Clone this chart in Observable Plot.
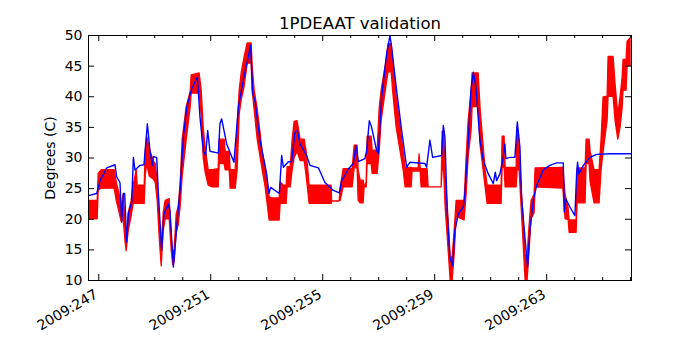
<!DOCTYPE html>
<html><head><meta charset="utf-8">
<script src="https://cdn.jsdelivr.net/npm/d3@7"></script>
<script src="https://cdn.jsdelivr.net/npm/@observablehq/plot@0.6"></script>
<style>
body{margin:0;background:#fff;}
#chart{width:700px;height:350px;}
</style></head><body><div id="chart"></div>
<script>
const title = "1PDEAAT validation";
const yLabel = "Degrees (C)";
const xMajorTicks = [247, 251, 255, 259, 263];
const xTickLabels = ["2009:247", "2009:251", "2009:255", "2009:259", "2009:263"];
const xMinorTicks = [248, 249, 250, 252, 253, 254, 256, 257, 258, 260, 261, 262, 264, 265, 266];
const yTicks = [10, 15, 20, 25, 30, 35, 40, 45, 50];

// Blue (model) series: day of year, degrees C
const blueDay = [246.665, 246.926, 246.986, 247.044, 247.283, 247.579, 247.64, 247.758, 247.819, 247.879,
  247.926, 247.997, 248.058, 248.176, 248.236, 248.294, 248.472, 248.615, 248.736, 248.829,
  248.915, 248.951, 249.069, 249.129, 249.247, 249.329, 249.486, 249.544, 249.665, 249.783,
  249.901, 250.022, 250.14, 250.319, 250.522, 250.615, 250.736, 250.819, 250.89, 250.972,
  251.272, 251.329, 251.39, 251.569, 251.829, 251.986, 252.165, 252.426, 252.497, 252.579,
  252.758, 252.997, 253.079, 253.14, 253.451, 253.533, 253.594, 253.772, 253.89, 254.008,
  254.094, 254.186, 254.426, 254.544, 254.844, 255.079, 255.379, 255.594, 255.676, 255.915,
  256.094, 256.186, 256.272, 256.508, 256.569, 256.665, 256.747, 256.926, 256.986, 257.104,
  257.283, 257.401, 257.461, 257.64, 257.819, 257.997, 258.115, 258.651, 258.711, 258.829,
  258.926, 259.247, 259.308, 259.365, 259.451, 259.544, 259.64, 259.722, 259.844, 260.022,
  260.079, 260.201, 260.294, 260.379, 260.472, 260.615, 260.736, 260.915, 261.094, 261.165,
  261.211, 261.329, 261.451, 261.508, 261.544, 261.686, 261.865, 261.951, 262.044, 262.104,
  262.222, 262.319, 262.401, 262.522, 262.64, 262.819, 262.879, 263.115, 263.354, 263.594,
  263.629, 263.686, 263.829, 264.008, 264.069, 264.104, 264.151, 264.308, 264.544, 264.783,
  265.258, 265.997];
const blueVal = [23.9, 24.2, 25.2, 26.3, 28.4, 28.9, 26.9, 26.0, 19.5, 24.2,
  24.2, 16.3, 20.9, 22.8, 30.1, 28.0, 28.8, 28.9, 35.6, 31.2,
  28.8, 30.2, 30.1, 24.2, 14.9, 20.9, 22.5, 21.4, 12.2, 18.7,
  24.7, 33.4, 38.3, 41.3, 43.2, 36.7, 31.2, 30.4, 34.5, 31.1,
  30.8, 35.6, 36.4, 32.3, 29.3, 38.3, 42.7, 48.4, 40.5, 39.4,
  32.9, 27.4, 24.2, 25.2, 24.2, 30.4, 28.5, 29.4, 29.4, 34.2,
  34.5, 32.3, 30.4, 28.8, 28.4, 26.0, 24.7, 24.3, 26.3, 28.2,
  29.1, 32.0, 29.4, 29.9, 31.2, 36.1, 35.0, 31.2, 30.7, 39.9,
  47.0, 50.0, 48.1, 41.0, 34.5, 28.5, 29.3, 29.1, 28.5, 32.9,
  30.1, 30.4, 35.3, 33.4, 20.9, 13.8, 12.4, 18.2, 20.9, 22.0,
  24.2, 32.9, 41.0, 44.0, 41.6, 32.9, 29.6, 27.4, 25.8, 27.7,
  26.3, 27.4, 30.1, 32.3, 29.9, 30.1, 30.1, 35.9, 31.8, 23.6,
  17.1, 12.2, 18.2, 23.1, 25.5, 27.4, 28.1, 28.8, 29.2, 29.2,
  21.2, 23.3, 22.0, 20.6, 27.4, 29.3, 27.4, 28.8, 30.1, 30.6,
  30.7, 30.7];

// Red (telemetry) series: quantized signal flickering between a low and high level
const redDay = [246.665, 246.961, 246.997, 247.104, 247.569, 247.64, 247.747, 247.819, 247.89, 247.961,
  247.997, 248.069, 248.176, 248.247, 248.354, 248.39, 248.64, 248.676, 248.729, 248.819,
  248.961, 249.033, 249.104, 249.176, 249.247, 249.319, 249.39, 249.533, 249.604, 249.658,
  249.711, 249.783, 249.854, 249.926, 249.997, 250.14, 250.283, 250.319, 250.604, 250.676,
  250.747, 250.819, 250.926, 251.069, 251.283, 251.319, 251.497, 251.533, 251.676, 251.711,
  251.89, 251.961, 252.033, 252.104, 252.211, 252.319, 252.461, 252.497, 252.569, 252.676,
  252.783, 252.854, 252.961, 253.104, 253.176, 253.461, 253.497, 253.604, 253.711, 253.747,
  253.854, 253.926, 253.997, 254.104, 254.211, 254.354, 254.426, 254.533, 255.069, 255.319,
  255.336, 255.604, 255.64, 255.747, 256.069, 256.14, 256.247, 256.283, 256.354, 256.461,
  256.497, 256.569, 256.604, 256.747, 256.783, 256.961, 257.033, 257.104, 257.283, 257.354,
  257.461, 257.533, 257.64, 257.783, 257.89, 257.961, 258.176, 258.211, 258.426, 258.461,
  258.497, 258.533, 258.747, 258.783, 259.247, 259.283, 259.336, 259.39, 259.497, 259.569,
  259.64, 259.711, 259.783, 260.069, 260.14, 260.211, 260.319, 260.354, 260.569, 260.64,
  260.747, 260.819, 260.89, 261.39, 261.426, 261.497, 261.533, 261.926, 261.961, 262.033,
  262.104, 262.176, 262.247, 262.319, 262.39, 262.461, 262.569, 262.604, 263.594, 263.676,
  263.783, 263.819, 264.069, 264.104, 264.39, 264.426, 264.533, 264.569, 264.711, 264.89,
  264.961, 265.033, 265.176, 265.211, 265.39, 265.461, 265.558, 265.64, 265.711, 265.747,
  265.854, 265.89, 265.997];
const redLo = [20, 20, 24.7, 25, 25, 23, 21, 19.5, 20, 16,
  14.8, 18, 20.5, 22.5, 22.5, 22.5, 22.5, 27, 29, 27,
  26.5, 26, 23, 17, 12.3, 18, 20, 20, 15, 12.5,
  13, 17.8, 19, 22, 27, 32.9, 38.3, 40.5, 40.5, 37,
  30, 27.6, 25.5, 25.2, 25.2, 29, 29, 28, 28, 25,
  25, 28, 37, 39.4, 41.6, 45.4, 45.4, 41, 37.8, 33,
  30, 28, 25.2, 19.8, 19.8, 19.8, 22.5, 22.5, 22.5, 25.2,
  25.2, 28, 30, 31, 29.5, 29.5, 27, 22.5, 22.5, 22.5,
  22.9, 22.9, 23, 25.2, 25.2, 28.3, 28.3, 23, 22.6, 22.6,
  25.2, 25.2, 29, 29, 27.4, 27.4, 31, 36, 42, 44,
  44, 40, 35, 31, 28, 25.2, 25.2, 27.8, 27.8, 27.8,
  27.8, 25.2, 25.2, 25.2, 25.2, 28, 28, 22, 15, 10,
  10, 14, 20.4, 19.8, 24, 30, 34.5, 38.3, 38.3, 32,
  28, 25.2, 22.5, 22.5, 28.4, 28.4, 25.2, 25.2, 28, 28,
  22, 16, 10, 10, 15, 20, 21, 25.2, 25.0, 20,
  19.9, 17.8, 17.8, 22.6, 22.6, 29, 29, 26, 22.6, 22.6,
  28, 31, 36, 40, 40, 36, 33, 35, 38, 41,
  41, 45, 45];
const redHi = [23, 23, 27.4, 28, 28, 26, 24, 22, 24, 19,
  16, 21, 23, 25.5, 28, 25.5, 25.5, 31, 33.5, 31.5,
  29.5, 29, 26, 20, 15, 21, 23, 23.3, 17, 14.5,
  15, 20.8, 22, 26, 33, 38.3, 40.8, 43.5, 43.8, 41,
  35, 31.6, 28, 28, 28.2, 33, 33, 31, 31, 28,
  28, 35, 41, 43.8, 46.5, 48.7, 48.7, 45, 41, 38,
  34, 31, 28.4, 23.6, 23.4, 23.4, 26, 25.5, 25.5, 28.5,
  28.5, 33, 35.9, 36, 33, 33, 31, 25.5, 25.5, 25.5,
  22.9, 22.9, 25, 28.2, 28.2, 32, 32, 28, 26.3, 26.3,
  25.2, 26, 33.5, 33.5, 31.2, 31.2, 38, 41, 46, 48.6,
  48.6, 45, 40, 35, 31, 28.4, 28.4, 28.3, 28.3, 30.6,
  28.3, 28.2, 28.2, 25.2, 25.2, 34.3, 34.3, 27, 20, 13.8,
  13.8, 18, 23, 23, 30, 36, 41, 43.8, 43.8, 38,
  32, 28, 25.5, 25.5, 33.5, 33.5, 28.4, 28.4, 35, 32,
  25, 20, 14, 14, 19, 23, 24, 28.3, 28.4, 24,
  21.8, 19.8, 19.8, 28.3, 28.3, 33, 33, 31, 28, 28,
  33, 39.9, 40, 46.5, 46.5, 42, 37, 40, 43, 46,
  46, 49, 49.5];

const blue = blueDay.map((d, i) => ({day: d, temp: blueVal[i]}));
const red = redDay.map((d, i) => ({day: d, lo: redLo[i], hi: redHi[i]}));

const W = 700, H = 350, mL = 88, mR = 69, mT = 35, mB = 70;
const innerH = H - mT - mB, innerW = W - mL - mR;
const font = "DejaVu Sans, sans-serif";

const chart = Plot.plot({
  width: W, height: H,
  marginLeft: mL, marginRight: mR, marginTop: mT, marginBottom: mB,
  style: {fontFamily: font, fontSize: "14px", background: "white", color: "black", overflow: "visible"},
  x: {domain: [246.633, 266.03], axis: null},
  y: {domain: [10, 50], axis: null},
  marks: [
    Plot.areaY(red, {x: "day", y1: "lo", y2: "hi", fill: "#ff0000", stroke: "#ff0000", strokeWidth: 1.3, clip: true}),
    Plot.line(blue, {x: "day", y: "temp", stroke: "#0000ff", strokeWidth: 1.4, clip: true}),
    Plot.frame({stroke: "black", strokeWidth: 1}),
    Plot.ruleX(xMajorTicks, {insetTop: innerH - 6, stroke: "black"}),
    Plot.ruleX(xMajorTicks, {insetBottom: innerH - 6, stroke: "black"}),
    Plot.ruleX(xMinorTicks, {insetTop: innerH - 3, stroke: "black"}),
    Plot.ruleX(xMinorTicks, {insetBottom: innerH - 3, stroke: "black"}),
    Plot.ruleY(yTicks, {insetRight: innerW - 6, stroke: "black"}),
    Plot.ruleY(yTicks, {insetLeft: innerW - 6, stroke: "black"}),
    Plot.text(xMajorTicks, {x: d => d, frameAnchor: "bottom", text: (d, i) => xTickLabels[i],
      rotate: -30, textAnchor: "end", lineAnchor: "top", dx: -5, dy: 8, fontSize: 14, fill: "black"}),
    Plot.text(yTicks, {y: d => d, frameAnchor: "left", text: d => String(d),
      textAnchor: "end", dx: -6, fontSize: 14, fill: "black"}),
    Plot.text([yLabel], {frameAnchor: "left", text: d => d, rotate: -90, dx: -38,
      textAnchor: "middle", fontSize: 14, fill: "black"}),
    Plot.text([title], {frameAnchor: "top", text: d => d, dy: -7, lineAnchor: "bottom", fontSize: 16.5, fill: "black"})
  ]
});
document.getElementById("chart").appendChild(chart);
</script>
</body></html>
